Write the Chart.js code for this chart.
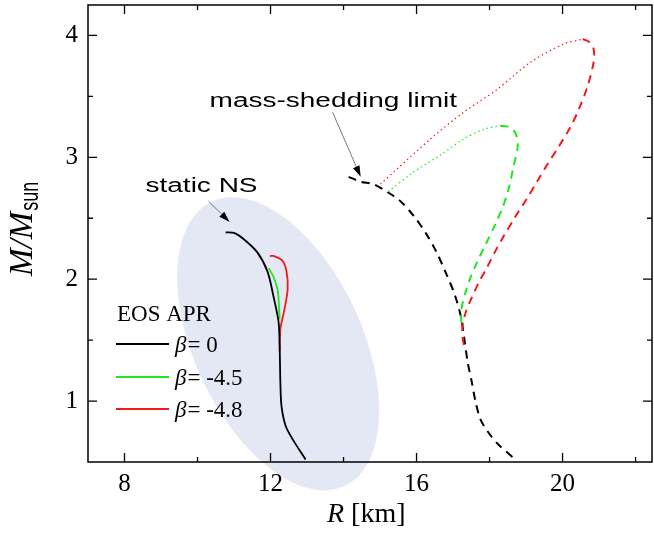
<!DOCTYPE html>
<html>
<head>
<meta charset="utf-8">
<script src="https://cdn.jsdelivr.net/npm/chart.js@4.4.0/dist/chart.umd.min.js"></script>
<style>
    html, body { margin: 0; padding: 0; background: #fff; }
    #wrap { width: 654px; height: 544px; }
</style>
</head>
<body>
<div id="wrap"><canvas id="mr" width="654" height="544"></canvas></div>
<script>
// Values: R in km, M in solar masses

// static NS, beta = 0 (solid black)
const staticR_b0 = [10.77, 11.0, 11.26, 11.64, 11.92, 12.08, 12.22, 12.25, 12.27, 12.30, 12.41, 12.60, 12.96];
const staticM_b0 = [2.385, 2.38, 2.33, 2.22, 2.06, 1.86, 1.65, 1.45, 1.15, 0.96, 0.80, 0.69, 0.52];
// static NS, beta = -4.5 (solid green)
const staticR_b45 = [11.95, 12.08, 12.19, 12.22, 12.25];
const staticM_b45 = [2.09, 2.02, 1.92, 1.84, 1.67];
// static NS, beta = -4.8 (solid red)
const staticR_b48 = [11.98, 12.10, 12.33, 12.44, 12.47, 12.38, 12.27, 12.25];
const staticM_b48 = [2.19, 2.19, 2.15, 2.06, 1.92, 1.75, 1.59, 1.41];

// mass-shedding limit, beta = 0 (dashed black)
const keplerR_b0 = [14.14, 14.47, 14.82, 15.23, 15.56, 15.92, 16.25, 16.55, 16.82, 17.05, 17.21, 17.31, 17.40, 17.51, 17.62, 17.75, 17.95, 18.22, 18.71];
const keplerM_b0 = [2.84, 2.80, 2.78, 2.71, 2.64, 2.52, 2.38, 2.22, 2.04, 1.87, 1.70, 1.51, 1.32, 1.16, 0.99, 0.85, 0.75, 0.65, 0.52];
// mass-shedding limit, beta = -4.5 (dotted + dashed green)
const keplerDotR_b45 = [15.23, 15.92, 16.66, 17.29, 17.84, 18.30];
const keplerDotM_b45 = [2.72, 2.88, 3.02, 3.15, 3.23, 3.26];
const keplerR_b45 = [18.30, 18.52, 18.71, 18.77, 18.66, 18.52, 18.36, 18.14, 17.90, 17.66, 17.46, 17.32, 17.24, 17.22, 17.26];
const keplerM_b45 = [3.26, 3.25, 3.20, 3.09, 2.93, 2.74, 2.59, 2.44, 2.29, 2.14, 2.00, 1.87, 1.77, 1.68, 1.59];
// mass-shedding limit, beta = -4.8 (dotted + dashed red)
const keplerDotR_b48 = [15.01, 16.38, 17.29, 18.22, 19.12, 20.03, 20.55];
const keplerDotM_b48 = [2.78, 3.15, 3.37, 3.56, 3.78, 3.93, 3.97];
const keplerR_b48 = [20.55, 20.71, 20.85, 20.85, 20.68, 20.44, 20.20, 19.90, 19.60, 19.32, 19.02, 18.70, 18.40, 18.14, 17.92, 17.70, 17.50, 17.34, 17.26, 17.26, 17.34];
const keplerM_b48 = [3.97, 3.95, 3.89, 3.78, 3.58, 3.39, 3.24, 3.09, 2.95, 2.81, 2.66, 2.51, 2.36, 2.22, 2.09, 1.97, 1.84, 1.72, 1.61, 1.52, 1.41];

// Axis ticks
const xMajorTicks = [8, 12, 16, 20];
const xMinorTicks = [10, 14, 18, 22];
const yMajorTicks = [1, 2, 3, 4];
const yMinorTicks = [1.5, 2.5, 3.5];

// Legend entries
const legendTitle = "EOS APR";
const legendLabels = ["0", "-4.5", "-4.8"];

const colors = {
    black: "#000000",
    green: "#1fe61f",
    red: "#ee1c1c",
    ellipse: "#e4e8f5"
};
const serif = "'Liberation Serif', 'Times New Roman', serif";
const sans = "'Liberation Sans', Arial, sans-serif";

function toPoints(xs, ys) {
    return xs.map((x, i) => ({ x: x, y: ys[i] }));
}

function curve(xs, ys, color, style) {
    const ds = {
        data: toPoints(xs, ys),
        borderColor: color,
        showLine: true,
        pointRadius: 0,
        tension: 0.3,
        fill: false,
        borderWidth: 1.8
    };
    if (style === "dash") {
        ds.borderWidth = 2;
        ds.borderDash = [8, 6];
    } else if (style === "dot") {
        ds.borderWidth = 1.2;
        ds.borderDash = [1.5, 3];
    }
    return ds;
}

// Sans text in the figure is drawn wider than normal
function wideText(ctx, text, x, y, sx) {
    ctx.save();
    ctx.translate(x, y);
    ctx.scale(sx, 1);
    ctx.fillText(text, 0, 0);
    ctx.restore();
}

function arrow(ctx, x0, y0, x1, y1) {
    const ang = Math.atan2(y1 - y0, x1 - x0);
    const len = 11, half = 3.5;
    ctx.save();
    ctx.strokeStyle = "#555";
    ctx.lineWidth = 0.8;
    ctx.beginPath();
    ctx.moveTo(x0, y0);
    ctx.lineTo(x1 - len * Math.cos(ang), y1 - len * Math.sin(ang));
    ctx.stroke();
    ctx.fillStyle = "#000";
    ctx.beginPath();
    ctx.moveTo(x1, y1);
    ctx.lineTo(x1 - len * Math.cos(ang) + half * Math.sin(ang), y1 - len * Math.sin(ang) - half * Math.cos(ang));
    ctx.lineTo(x1 - len * Math.cos(ang) - half * Math.sin(ang), y1 - len * Math.sin(ang) + half * Math.cos(ang));
    ctx.closePath();
    ctx.fill();
    ctx.restore();
}

// Shaded ellipse behind the static curves
const ellipsePlugin = {
    id: "ellipse",
    beforeDraw(chart) {
        const { ctx, scales } = chart;
        const cx = scales.x.getPixelForValue(12.21);
        const cy = scales.y.getPixelForValue(1.47);
        ctx.save();
        ctx.fillStyle = colors.ellipse;
        ctx.beginPath();
        ctx.ellipse(cx, cy, 157, 84, 65 * Math.PI / 180, 0, 2 * Math.PI);
        ctx.fill();
        ctx.restore();
    }
};

// Frame, inward ticks, titles, legend and annotations
const decorPlugin = {
    id: "decor",
    afterDraw(chart) {
        const { ctx, chartArea: a, scales } = chart;
        const xs = scales.x, ys = scales.y;

        ctx.save();
        ctx.strokeStyle = "#000";
        ctx.lineWidth = 1.5;
        ctx.strokeRect(a.left, a.top, a.right - a.left, a.bottom - a.top);

        ctx.lineWidth = 1.3;
        ctx.beginPath();
        const xTick = (v, len) => {
            const px = xs.getPixelForValue(v);
            ctx.moveTo(px, a.bottom); ctx.lineTo(px, a.bottom - len);
            ctx.moveTo(px, a.top); ctx.lineTo(px, a.top + len);
        };
        const yTick = (v, len) => {
            const py = ys.getPixelForValue(v);
            ctx.moveTo(a.left, py); ctx.lineTo(a.left + len, py);
            ctx.moveTo(a.right, py); ctx.lineTo(a.right - len, py);
        };
        xMajorTicks.forEach(v => xTick(v, 9));
        xMinorTicks.forEach(v => xTick(v, 5));
        yMajorTicks.forEach(v => yTick(v, 9));
        yMinorTicks.forEach(v => yTick(v, 5));
        ctx.stroke();

        ctx.fillStyle = "#000";
        ctx.textBaseline = "alphabetic";
        ctx.textAlign = "left";

        // x title: R [km]
        ctx.font = "italic 28px " + serif;
        ctx.fillText("R", 327, 522);
        const rw = ctx.measureText("R ").width;
        ctx.font = "28px " + serif;
        ctx.fillText("[km]", 327 + rw, 522);

        // y title: M/M_sun, rotated
        ctx.save();
        ctx.translate(0, 276);
        ctx.rotate(-Math.PI / 2);
        ctx.font = "italic 33px " + serif;
        ctx.fillText("M/M", 0, 32);
        const mw = ctx.measureText("M/M").width;
        ctx.translate(mw + 1, 38);
        ctx.scale(1, 1.4);
        ctx.font = "18px " + sans;
        ctx.fillText("sun", 0, 0);
        ctx.restore();

        // legend
        ctx.font = "23px " + serif;
        ctx.fillText(legendTitle, 117, 321);
        const lineColors = [colors.black, colors.green, colors.red];
        const rowY = [344, 377, 409];
        legendLabels.forEach((lab, i) => {
            ctx.strokeStyle = lineColors[i];
            ctx.lineWidth = 2;
            ctx.beginPath();
            ctx.moveTo(116, rowY[i]);
            ctx.lineTo(169, rowY[i]);
            ctx.stroke();
            ctx.font = "italic 23px " + serif;
            ctx.fillText("\u03b2", 175, rowY[i] + 8);
            const bw = ctx.measureText("\u03b2").width;
            ctx.font = "23px " + serif;
            ctx.fillText("= " + lab, 175 + bw + 1, rowY[i] + 8);
        });

        // annotations
        ctx.font = "20px " + sans;
        wideText(ctx, "static NS", xs.getPixelForValue(8.575), ys.getPixelForValue(2.713), 1.4);
        wideText(ctx, "mass-shedding limit", xs.getPixelForValue(10.33), ys.getPixelForValue(3.41), 1.4);
        arrow(ctx, xs.getPixelForValue(10.30), ys.getPixelForValue(2.64), xs.getPixelForValue(10.88), ys.getPixelForValue(2.47));
        arrow(ctx, xs.getPixelForValue(13.70), ys.getPixelForValue(3.37), xs.getPixelForValue(14.47), ys.getPixelForValue(2.84));
        ctx.restore();
    }
};

const chart = new Chart(document.getElementById("mr"), {
    type: "scatter",
    data: {
        datasets: [
            curve(staticR_b0, staticM_b0, colors.black, "solid"),
            curve(staticR_b45, staticM_b45, colors.green, "solid"),
            curve(staticR_b48, staticM_b48, colors.red, "solid"),
            curve(keplerDotR_b48, keplerDotM_b48, colors.red, "dot"),
            curve(keplerDotR_b45, keplerDotM_b45, colors.green, "dot"),
            curve(keplerR_b48, keplerM_b48, colors.red, "dash"),
            curve(keplerR_b45, keplerM_b45, colors.green, "dash"),
            curve(keplerR_b0, keplerM_b0, colors.black, "dash")
        ]
    },
    options: {
        responsive: false,
        animation: false,
        layout: { padding: { top: 5, right: 2, left: 0, bottom: 0 } },
        plugins: {
            legend: { display: false },
            tooltip: { enabled: false }
        },
        scales: {
            x: {
                type: "linear",
                min: 7,
                max: 22.45,
                grid: { display: false, drawTicks: false },
                border: { display: false },
                afterBuildTicks: s => { s.ticks = xMajorTicks.map(v => ({ value: v })); },
                afterFit: s => { s.height = 82; s.paddingLeft = 0; s.paddingRight = 0; },
                ticks: {
                    padding: 7,
                    color: "#000",
                    maxRotation: 0,
                    font: { family: serif, size: 25 }
                }
            },
            y: {
                type: "linear",
                min: 0.5,
                max: 4.25,
                grid: { display: false, drawTicks: false },
                border: { display: false },
                afterBuildTicks: s => { s.ticks = yMajorTicks.map(v => ({ value: v })); },
                afterFit: s => { s.width = 88; s.paddingTop = 0; s.paddingBottom = 0; },
                ticks: {
                    padding: 10,
                    color: "#000",
                    font: { family: serif, size: 25 }
                }
            }
        }
    },
    plugins: [ellipsePlugin, decorPlugin]
});
</script>
</body>
</html>
